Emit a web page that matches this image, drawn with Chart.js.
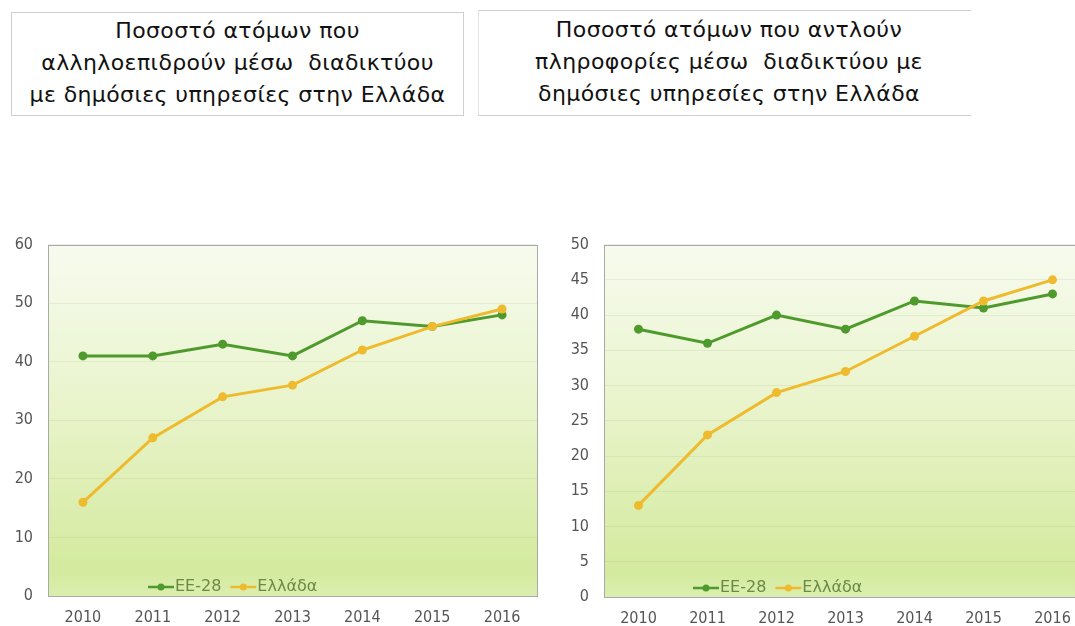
<!DOCTYPE html>
<html>
<head>
<meta charset="utf-8">
<script src="https://cdn.jsdelivr.net/npm/chart.js@4/dist/chart.umd.min.js"></script>
<style>
  html, body { margin:0; padding:0; width:1075px; height:626px; overflow:hidden; background:#fff; }
  .title { position:absolute; font-family:"DejaVu Sans", sans-serif; font-size:22px; letter-spacing:0.4px; line-height:32px; color:#111; text-align:center; white-space:pre; box-sizing:border-box; }
  #t1 { left:11px; top:12px; width:453px; height:104px; border:1px solid #cfcfcf; padding-top:2px; }
  #t2 { left:478px; top:10px; width:493px; height:106px; border-top:1px solid #cfcfcf; border-bottom:1px solid #cfcfcf; border-left:1px solid #e4e4e4; padding-top:3px; padding-left:8px; }
  canvas { position:absolute; }
  #c1 { left:0px; top:220px; }
  #c2 { left:540px; top:220px; }
</style>
</head>
<body>
<div class="title" id="t1">Ποσοστό ατόμων που
αλληλοεπιδρούν μέσω  διαδικτύου
με δημόσιες υπηρεσίες στην Ελλάδα</div>
<div class="title" id="t2">Ποσοστό ατόμων που αντλούν
πληροφορίες μέσω  διαδικτύου με
δημόσιες υπηρεσίες στην Ελλάδα</div>
<canvas id="c1" width="545" height="406"></canvas>
<canvas id="c2" width="555" height="406"></canvas>
<script>
const years = ['2010','2011','2012','2013','2014','2015','2016'];
const seriesNames = ['EE-28','Ελλάδα'];
// Chart 1: interaction with public services
const interactEU = [41, 41, 43, 41, 47, 46, 48];
const interactGR = [16, 27, 34, 36, 42, 46, 49];
// Chart 2: obtaining information from public services
const infoEU = [38, 36, 40, 38, 42, 41, 43];
const infoGR = [13, 23, 29, 32, 37, 42, 45];

const GREEN = '#4f9a2c';
const YELLOW = '#eebb2e';
const TICKFONT = '"DejaVu Sans Condensed", "DejaVu Sans", sans-serif';

const areaPlugin = {
  id: 'area',
  beforeDraw(chart) {
    const {ctx, chartArea: a} = chart;
    const g = ctx.createLinearGradient(0, a.top, 0, a.bottom);
    g.addColorStop(0, '#f7fbef');
    g.addColorStop(0.45, '#e9f4cc');
    g.addColorStop(0.93, '#d4ea9e');
    g.addColorStop(1, '#dbeeb0');
    ctx.save();
    ctx.fillStyle = g;
    ctx.fillRect(a.left, a.top, a.right - a.left, a.bottom - a.top);
    ctx.restore();
  },
  afterDraw(chart) {
    const {ctx, chartArea: a} = chart;
    ctx.save();
    ctx.strokeStyle = '#a9a9a9';
    ctx.lineWidth = 1;
    ctx.strokeRect(Math.round(a.left) + 0.5, Math.round(a.top) + 0.5, Math.round(a.right - a.left), Math.round(a.bottom - a.top));
    ctx.restore();
  }
};

const legendPlugin = {
  id: 'inlegend',
  afterDatasetsDraw(chart, args, opts) {
    const {ctx, chartArea: a} = chart;
    ctx.save();
    ctx.font = '16px "DejaVu Sans", sans-serif';
    ctx.textBaseline = 'middle';
    let x = a.left + opts.offset;
    const y = a.bottom - 9;
    chart.data.datasets.forEach((ds) => {
      ctx.strokeStyle = ds.borderColor;
      ctx.lineWidth = 2.5;
      ctx.beginPath(); ctx.moveTo(x, y); ctx.lineTo(x + 26, y); ctx.stroke();
      ctx.fillStyle = ds.borderColor;
      ctx.beginPath(); ctx.arc(x + 13, y, 3.5, 0, Math.PI * 2); ctx.fill();
      ctx.fillStyle = '#6a8a45';
      ctx.fillText(ds.label, x + 27, y);
      x += 27 + ctx.measureText(ds.label).width + 9;
    });
    ctx.restore();
  }
};

function makeChart(id, eu, gr, max, step, yWidth, pad, legendOffset) {
  return new Chart(document.getElementById(id), {
    type: 'line',
    data: {
      labels: years,
      datasets: [
        { label: seriesNames[0], data: eu, borderColor: GREEN, backgroundColor: GREEN, borderWidth: 3,
          pointRadius: 4.5, pointBackgroundColor: GREEN, pointBorderWidth: 0, order: 2, tension: 0 },
        { label: seriesNames[1], data: gr, borderColor: YELLOW, backgroundColor: YELLOW, borderWidth: 3,
          pointRadius: 4.5, pointBackgroundColor: YELLOW, pointBorderWidth: 0, order: 1, tension: 0 }
      ]
    },
    options: {
      responsive: false,
      animation: false,
      layout: { padding: pad },
      plugins: { legend: { display: false }, tooltip: { enabled: false }, inlegend: { offset: legendOffset } },
      scales: {
        x: {
          offset: true,
          grid: { display: false, drawTicks: false },
          border: { display: false },
          ticks: { color: '#555', font: { family: TICKFONT, size: 16 }, padding: 12, maxRotation: 0 },
          afterFit: (ax) => { ax.height = pad.xh; }
        },
        y: {
          min: 0, max: max,
          grid: { color: 'rgba(150,160,120,0.14)', drawTicks: false },
          border: { display: false },
          ticks: { stepSize: step, color: '#555', font: { family: TICKFONT, size: 16 }, padding: 15 },
          afterFit: (ax) => { ax.width = yWidth; }
        }
      }
    },
    plugins: [areaPlugin, legendPlugin]
  });
}

makeChart('c1', interactEU, interactGR, 60, 10, 48, { top: 18, right: 8, bottom: 0, left: 0, xh: 30 }, 100);
makeChart('c2', infoEU, infoGR, 50, 5, 64, { top: 23, right: 8, bottom: 0, left: 0, xh: 29 }, 89);
</script>
</body>
</html>
